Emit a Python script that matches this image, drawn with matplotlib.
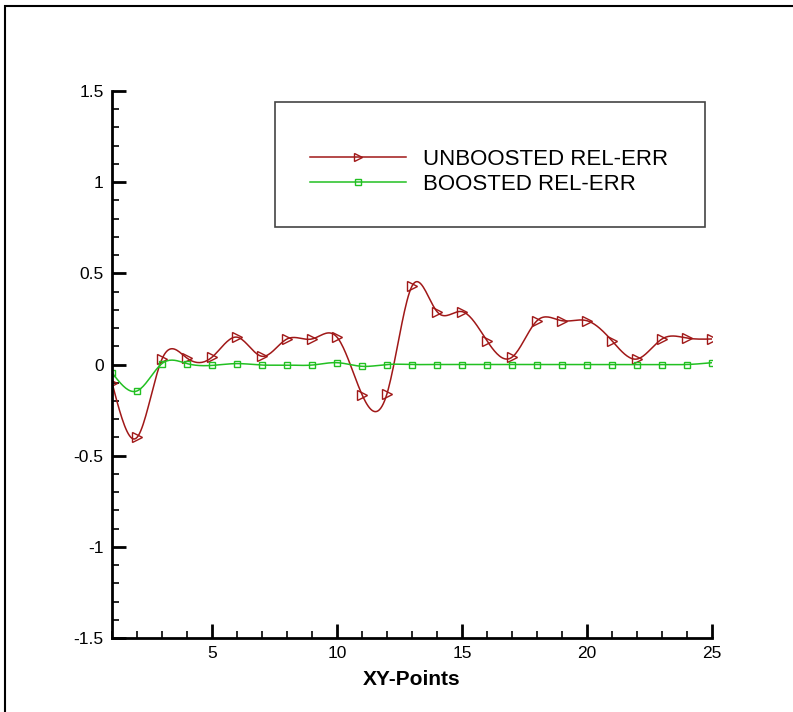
import numpy as np
import matplotlib
matplotlib.use("Agg")
import matplotlib.pyplot as plt
from matplotlib.patches import Rectangle
from matplotlib.lines import Line2D

plt.rcParams['font.family'] = ['Liberation Sans', 'DejaVu Sans']

xy_points = np.arange(1, 26)
unboosted = [-0.10, -0.40, 0.03, 0.035, 0.04, 0.15, 0.045, 0.14, 0.14, 0.15,
             -0.165, -0.16, 0.43, 0.29, 0.29, 0.13, 0.04, 0.24, 0.24, 0.24,
             0.13, 0.03, 0.14, 0.145, 0.14]
boosted = [-0.045, -0.145, 0.005, 0.005, -0.005, 0.005, -0.003, -0.003, -0.003, 0.01,
           -0.01, 0.0, 0.0, 0.0, 0.0, 0.0, 0.0, 0.0, 0.0, 0.0,
           0.0, 0.0, 0.0, 0.0, 0.01]


def natural_spline(x, y, n=20):
    x = np.asarray(x, float); y = np.asarray(y, float)
    N = len(x)
    h = np.diff(x)
    A = np.zeros((N, N)); b = np.zeros(N)
    A[0, 0] = 1; A[-1, -1] = 1
    for i in range(1, N - 1):
        A[i, i - 1] = h[i - 1]; A[i, i] = 2 * (h[i - 1] + h[i]); A[i, i + 1] = h[i]
        b[i] = 3 * ((y[i + 1] - y[i]) / h[i] - (y[i] - y[i - 1]) / h[i - 1])
    c = np.linalg.solve(A, b)
    xs, ys = [], []
    for i in range(N - 1):
        bi = (y[i + 1] - y[i]) / h[i] - h[i] * (2 * c[i] + c[i + 1]) / 3
        di = (c[i + 1] - c[i]) / (3 * h[i])
        t = np.linspace(0, h[i], n, endpoint=(i == N - 2))
        xs.append(x[i] + t)
        ys.append(y[i] + bi * t + c[i] * t ** 2 + di * t ** 3)
    return np.concatenate(xs), np.concatenate(ys)


fig = plt.figure(figsize=(7.93, 7.12), dpi=100)
ax = fig.add_axes([112 / 793, 1 - 638 / 712, 600 / 793, 547 / 712])

red = '#a01818'
green = '#22c022'
sx, sy = natural_spline(xy_points, unboosted)
ax.plot(sx, sy, color=red, lw=1.1)
ax.plot(xy_points, unboosted, ls='none', marker='>', ms=7, mfc='none', mec=red, mew=1.0)
gx, gy = natural_spline(xy_points, boosted)
ax.plot(gx, gy, color=green, lw=1.1)
ax.plot(xy_points, boosted, ls='none', marker='s', ms=5, mfc='none', mec=green, mew=1.0)

ax.set_xlim(1, 25)
ax.set_ylim(-1.5, 1.5)
ax.set_xticks([5, 10, 15, 20, 25])
ax.set_xticks(np.arange(1, 26), minor=True)
ax.set_yticks([-1.5, -1, -0.5, 0, 0.5, 1, 1.5])
ax.set_yticklabels(['-1.5', '-1', '-0.5', '0', '0.5', '1', '1.5'])
ax.set_yticks(np.arange(-1.5, 1.51, 0.1), minor=True)
for s in ['top', 'right']:
    ax.spines[s].set_visible(False)
for s in ['left', 'bottom']:
    ax.spines[s].set_linewidth(2)
ax.tick_params(which='major', direction='in', length=10, width=2, labelsize=12.5, pad=6)
ax.tick_params(which='minor', direction='in', length=5, width=1.2)
ax.set_xlabel('XY-Points', fontsize=15, fontweight='bold', labelpad=6)

# legend box
fig.patches.append(Rectangle((275 / 793, 1 - 227 / 712), 430 / 793, 125 / 712,
                             transform=fig.transFigure, fill=False, ec='#444444', lw=1.2))
handles = [Line2D([], [], color=red, lw=1.1, marker='>', ms=6, mfc='none', mec=red),
           Line2D([], [], color=green, lw=1.1, marker='s', ms=5, mfc='none', mec=green)]
fig.legend(handles, ['UNBOOSTED REL-ERR', 'BOOSTED REL-ERR'], loc='upper left',
           bbox_to_anchor=(310 / 793, 1 - 149 / 712), frameon=False, fontsize=16,
           handlelength=4.3, handletextpad=0.78, labelspacing=0.18, markerscale=1,
           numpoints=1, borderpad=0, borderaxespad=0)

# outer frame
fig.patches.append(Rectangle((5 / 793, -0.01), 1.0, 1 - 6 / 712 + 0.01,
                             transform=fig.transFigure, fill=False, ec='black', lw=1.5))

fig.savefig('out.png', dpi=100)
